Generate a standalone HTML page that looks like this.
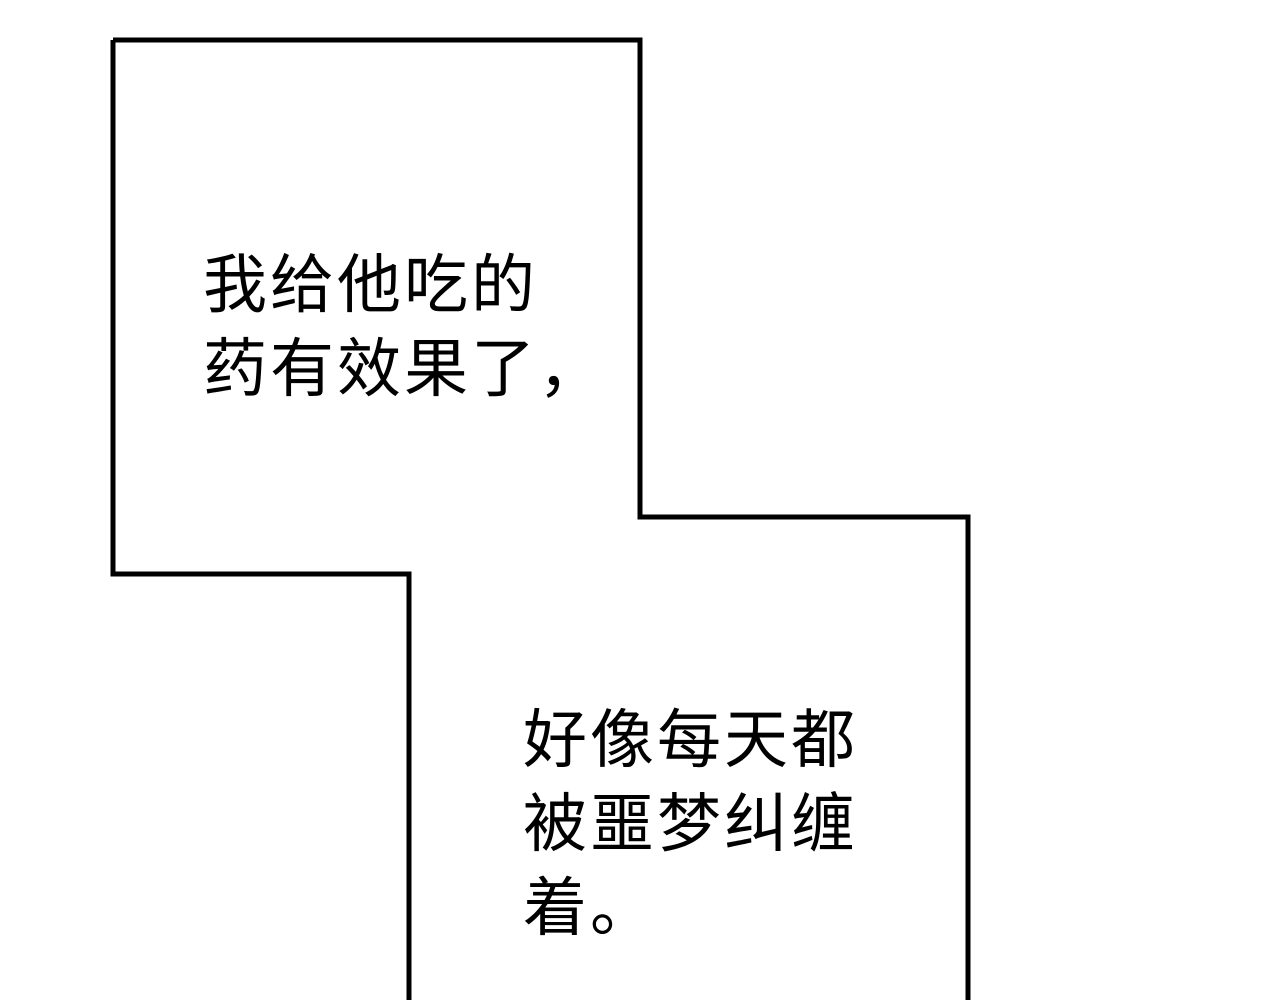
<!DOCTYPE html>
<html><head><meta charset="utf-8"><style>
html,body{margin:0;padding:0;background:#fff;}
body{width:1280px;height:1000px;position:relative;overflow:hidden;}
.t{position:absolute;font-family:"Liberation Sans","Noto Sans CJK SC",sans-serif;font-size:64px;line-height:84px;color:#000;white-space:nowrap;letter-spacing:3px;}
</style></head><body>
<svg width="1280" height="1000" style="position:absolute;left:0;top:0">
<polyline points="113,40 640,40 640,517 968,517 968,1000" fill="none" stroke="#000" stroke-width="5"/>
<polyline points="113,40 113,574 409,574 409,1000" fill="none" stroke="#000" stroke-width="5"/>
</svg>
<div class="t" style="left:203px;top:243px;">我给他吃的<br>药有效果了，</div>
<div class="t" style="left:523px;top:698px;">好像每天都<br>被噩梦纠缠<br>着。</div>
</body></html>
